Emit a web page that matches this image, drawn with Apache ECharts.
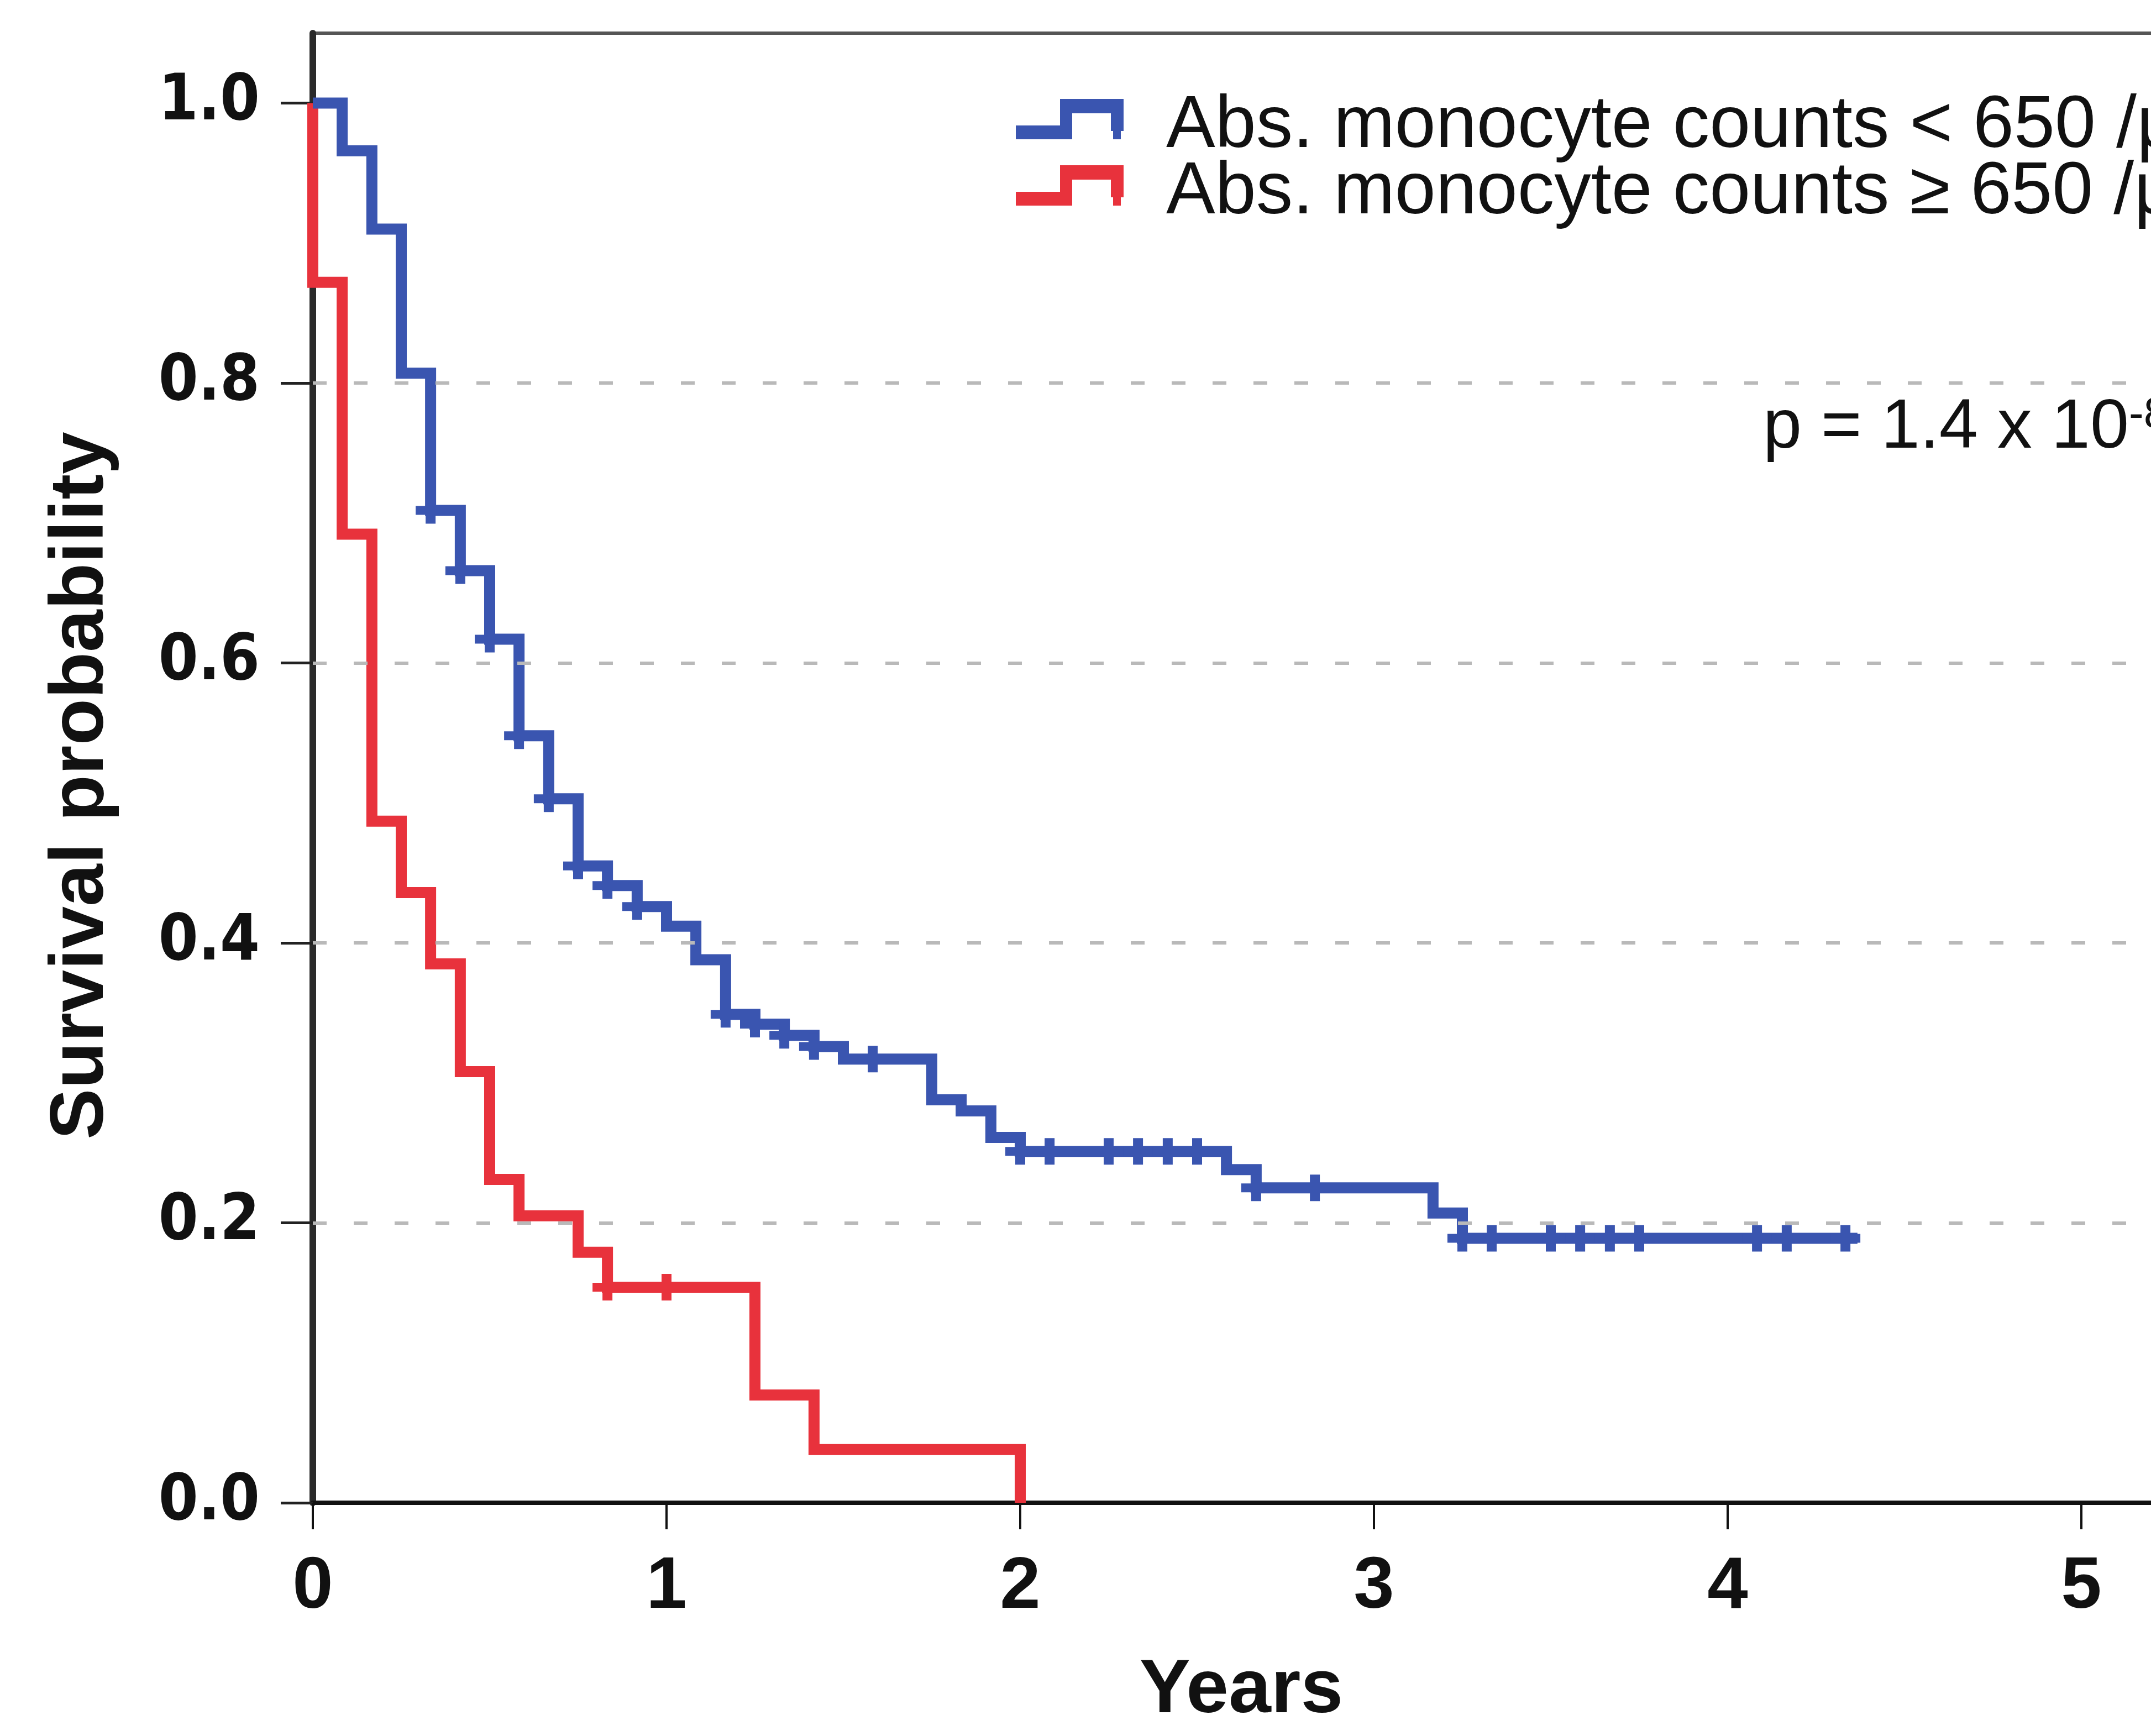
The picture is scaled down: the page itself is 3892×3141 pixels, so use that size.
<!DOCTYPE html>
<html>
<head>
<meta charset="utf-8">
<script src="https://cdn.jsdelivr.net/npm/echarts@6/dist/echarts.min.js"></script>
<style>
  html, body { margin: 0; padding: 0; background: #ffffff; overflow: hidden; }
  #chart { width: 4200px; height: 3141px; }
</style>
</head>
<body>
<div id="chart"></div>
<script>
// Kaplan-Meier estimates, time in years
const lowLabel = 'Abs. monocyte counts < 650 /µl';
const highLabel = 'Abs. monocyte counts ≥ 650 /µl';

const lowTimes = [0, 0.083, 0.167, 0.25, 0.333, 0.417, 0.5, 0.583, 0.667, 0.75, 0.833, 0.917, 1.0, 1.083,
                  1.167, 1.25, 1.333, 1.417, 1.5, 1.75, 1.833, 1.917, 2.0, 2.583, 2.667, 3.167, 3.25, 4.367];
const lowSurv  = [1.0, 0.966, 0.910, 0.807, 0.709, 0.666, 0.617, 0.548, 0.503, 0.455, 0.441, 0.426, 0.412, 0.388,
                  0.349, 0.342, 0.334, 0.326, 0.317, 0.288, 0.280, 0.261, 0.251, 0.238, 0.225, 0.207, 0.189, 0.189];

const lowCensorTimes = [0.333, 0.417, 0.5, 0.583, 0.667, 0.75, 0.833, 0.917, 1.167, 1.25, 1.333, 1.417, 1.583,
                        2.0, 2.083, 2.25, 2.333, 2.417, 2.5, 2.667, 2.833,
                        3.25, 3.333, 3.5, 3.583, 3.667, 3.75, 4.083, 4.167, 4.333];
const lowCensorSurv  = [0.709, 0.666, 0.617, 0.548, 0.503, 0.455, 0.441, 0.426, 0.349, 0.342, 0.334, 0.326, 0.317,
                        0.251, 0.251, 0.251, 0.251, 0.251, 0.251, 0.225, 0.225,
                        0.189, 0.189, 0.189, 0.189, 0.189, 0.189, 0.189, 0.189, 0.189];

const highTimes = [0, 0, 0.083, 0.167, 0.25, 0.333, 0.417, 0.5, 0.583, 0.75, 0.833, 1.25, 1.417, 2.0];
const highSurv  = [1.0, 0.872, 0.692, 0.487, 0.436, 0.385, 0.308, 0.231, 0.205, 0.179, 0.154, 0.077, 0.038, 0.0];

const highCensorTimes = [0.833, 1.0];
const highCensorSurv  = [0.154, 0.154];

const xTicks = [0, 1, 2, 3, 4, 5];
const yTicks = [0, 0.2, 0.4, 0.6, 0.8, 1.0];
const gridLevels = [0.2, 0.4, 0.6, 0.8];

const BLUE = '#3a55b0';
const RED = '#e8323c';

const pair = (xs, ys) => xs.map((x, i) => [x, ys[i]]);

// step-shaped legend glyph and "+" censoring tick
const stepIcon = 'path://M0,48L102,48L102,73L0,73Z M80,0L102,0L102,73L80,73Z M80,0L195,0L195,26L80,26Z M172,0L195,0L195,58L172,58Z M176,58L190,58L190,73L176,73Z';
const plusMark = 'path://M0,16L54,16L54,32L0,32Z M18,0L36,0L36,48L18,48Z';

const legendText = {
  fontFamily: 'Liberation Sans', fontSize: 133, color: '#111111',
  rich: {
    t: { fontFamily: 'Liberation Sans', fontSize: 133, color: '#111111', lineHeight: 73, padding: [28, 0, 0, 72] }
  }
};
const legendBase = {
  orient: 'vertical', left: 1838, padding: 0,
  itemWidth: 195, itemHeight: 73, itemGap: 0,
  selectedMode: false, textStyle: legendText,
  formatter: '{t|{name}}'
};

const chart = echarts.init(document.getElementById('chart'), null, { renderer: 'canvas' });

chart.setOption({
  animation: false,
  backgroundColor: '#ffffff',
  grid: {
    left: 566, top: 60, width: 3360, height: 2659,
    containLabel: false, outerBoundsMode: 'none',
    show: true, borderColor: '#555555', borderWidth: 6, backgroundColor: 'transparent'
  },
  title: {
    text: 'p = 1.4 x 10{sup|-8}',
    left: 3190, top: 712, padding: 0,
    textStyle: {
      fontFamily: 'Liberation Sans', fontSize: 126, fontWeight: 'normal', color: '#111111', lineHeight: 126,
      rich: {
        sup: { fontFamily: 'Liberation Sans', fontSize: 80, color: '#111111', verticalAlign: 'top', lineHeight: 60 }
      }
    }
  },
  legend: [
    Object.assign({}, legendBase, { top: 135, data: [{ name: lowLabel, icon: stepIcon }] }),
    Object.assign({}, legendBase, { top: 255, data: [{ name: highLabel, icon: stepIcon }] })
  ],
  xAxis: {
    type: 'value', min: 0, max: 5.25, interval: 1,
    name: 'Years', nameLocation: 'middle', nameGap: 272,
    nameTextStyle: { fontFamily: 'Liberation Sans', fontWeight: 'bold', fontSize: 138, color: '#111111' },
    axisLine: { show: true, onZero: false, lineStyle: { color: '#111111', width: 8 } },
    axisTick: { show: true, length: 48, customValues: xTicks, lineStyle: { color: '#111111', width: 4 } },
    axisLabel: {
      customValues: xTicks, margin: 88, color: '#111111',
      fontFamily: "'Liberation Sans Narrow', 'Liberation Sans', sans-serif", fontWeight: 'bold', fontSize: 132,
      formatter: v => (Number.isInteger(v) ? String(v) : '')
    },
    splitLine: { show: false }
  },
  yAxis: {
    type: 'value', min: 0, max: 1.05, interval: 0.2,
    name: 'Survival probability', nameLocation: 'middle', nameGap: 349,
    nameTextStyle: {
      fontFamily: 'Liberation Sans', fontWeight: 'bold', fontSize: 138, color: '#111111',
      padding: [0, 64, 0, 0]
    },
    axisLine: { show: true, onZero: false, lineStyle: { color: '#2a2a2a', width: 12 } },
    axisTick: { show: true, length: 58, customValues: yTicks, lineStyle: { color: '#222222', width: 5 } },
    axisLabel: {
      customValues: yTicks, margin: 96, color: '#111111',
      fontFamily: "'DejaVu Sans Condensed', 'DejaVu Sans', sans-serif", fontWeight: 'bold', fontSize: 115,
      formatter: v => v.toFixed(1)
    },
    splitLine: { show: false }
  },
  series: [
    {
      name: 'reference levels', type: 'line', data: [], z: 1, silent: true,
      markLine: {
        silent: true, symbol: ['none', 'none'], label: { show: false },
        lineStyle: { color: '#b9b9b9', width: 6, type: [25, 49] },
        emphasis: { disabled: true },
        data: gridLevels.map(v => ({ yAxis: v }))
      }
    },
    {
      name: lowLabel, type: 'line', step: 'end', z: 4, clip: false,
      showSymbol: false, symbol: 'none',
      data: pair(lowTimes, lowSurv),
      itemStyle: { color: BLUE },
      lineStyle: { color: BLUE, width: 20, join: 'miter', cap: 'butt' }
    },
    {
      name: highLabel, type: 'line', step: 'end', z: 3, clip: false,
      showSymbol: false, symbol: 'none',
      data: pair(highTimes, highSurv),
      itemStyle: { color: RED },
      lineStyle: { color: RED, width: 20, join: 'miter', cap: 'butt' }
    },
    {
      name: 'censored low', type: 'scatter', z: 5, clip: false,
      symbol: plusMark, symbolSize: [54, 48],
      data: pair(lowCensorTimes, lowCensorSurv),
      itemStyle: { color: BLUE, opacity: 1 }
    },
    {
      name: 'censored high', type: 'scatter', z: 5, clip: false,
      symbol: plusMark, symbolSize: [54, 48],
      data: pair(highCensorTimes, highCensorSurv),
      itemStyle: { color: RED, opacity: 1 }
    }
  ]
});
</script>
</body>
</html>
